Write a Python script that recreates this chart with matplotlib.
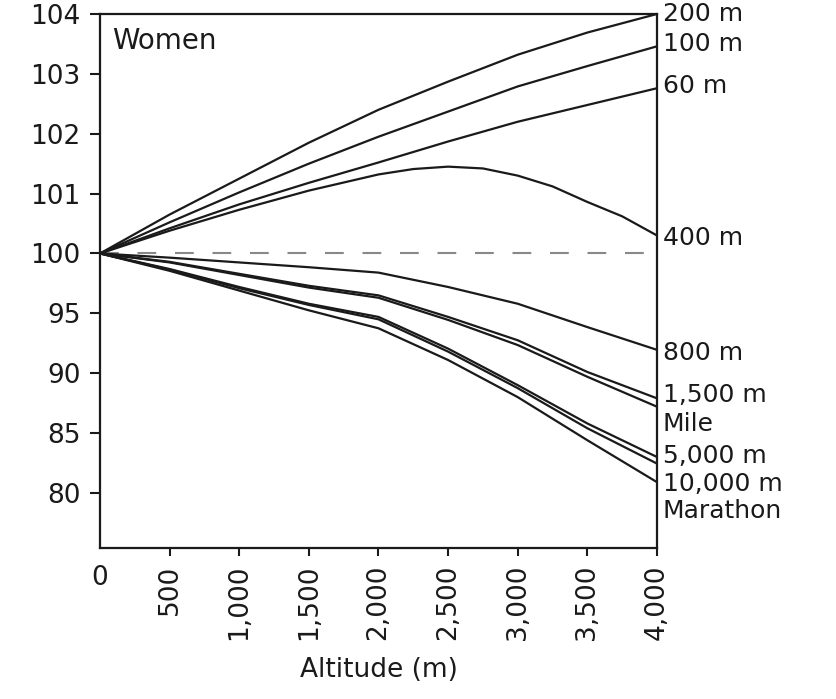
import numpy as np
import matplotlib
matplotlib.use("Agg")
import matplotlib.pyplot as plt
import matplotlib.transforms as mtransforms

plt.rcParams["font.family"] = ["DejaVu Sans"]

# altitude (m) and performance (% of sea-level) for each event
altitude = [0, 500, 1000, 1500, 2000, 2500, 3000, 3500, 4000]
altitude_400 = [0, 500, 1000, 1500, 2000, 2250, 2500, 2750, 3000, 3250,
                3500, 3750, 4000]

perf_200 = [100, 100.65, 101.25, 101.85, 102.4, 102.87, 103.32, 103.69, 104.0]
perf_100 = [100, 100.52, 101.02, 101.5, 101.95, 102.37, 102.79, 103.13, 103.46]
perf_60 = [100, 100.42, 100.82, 101.18, 101.52, 101.87, 102.2, 102.48, 102.76]
perf_400 = [100, 100.38, 100.73, 101.05, 101.32, 101.41, 101.45, 101.42,
            101.3, 101.12, 100.86, 100.62, 100.3]
perf_800 = [100, 99.65, 99.25, 98.85, 98.4, 97.2, 95.8, 93.85, 91.95]
perf_1500 = [100, 99.3, 98.3, 97.3, 96.5, 94.7, 92.75, 90.1, 87.9]
perf_mile = [100, 99.25, 98.2, 97.15, 96.3, 94.45, 92.35, 89.7, 87.2]
perf_5000 = [100, 98.7, 97.2, 95.8, 94.7, 92.05, 89.0, 85.8, 83.0]
perf_10000 = [100, 98.65, 97.1, 95.7, 94.5, 91.8, 88.75, 85.4, 82.45]
perf_marathon = [100, 98.55, 96.9, 95.25, 93.75, 91.1, 88.0, 84.4, 80.9]

series = [(altitude, perf_200), (altitude, perf_100), (altitude, perf_60),
          (altitude_400, perf_400), (altitude, perf_800),
          (altitude, perf_1500), (altitude, perf_mile),
          (altitude, perf_5000), (altitude, perf_10000),
          (altitude, perf_marathon)]

# event labels on the right and the y value where each one sits
event_labels = ["200 m", "100 m", "60 m", "400 m", "800 m",
                "1,500 m", "Mile", "5,000 m", "10,000 m", "Marathon"]
label_y = [104.0, 103.5, 102.8, 100.25, 91.65, 88.15, 85.75, 83.05, 80.75, 78.45]

y_ticks = [80, 85, 90, 95, 100, 101, 102, 103, 104]
x_ticks = [0, 500, 1000, 1500, 2000, 2500, 3000, 3500, 4000]
x_ticklabels = ["0", "500", "1,000", "1,500", "2,000", "2,500",
                "3,000", "3,500", "4,000"]


# broken y scale: 1 unit per step above 100, 5 units per step below
def fwd(y):
    y = np.asarray(y, dtype=float)
    return np.where(y >= 100, y - 100, (y - 100) / 5.0)


def inv(t):
    t = np.asarray(t, dtype=float)
    return np.where(t >= 0, t + 100, t * 5.0 + 100)


fig = plt.figure(figsize=(8.36, 6.99), dpi=100)
ax = fig.add_axes([0.1196, 0.216, 0.6663, 0.764])
ax.set_yscale("function", functions=(fwd, inv))

ink = "#1a1a1a"
ax.axhline(100, color="#888888", lw=1.5, linestyle=(0, (9, 9)), zorder=1)
for xs, vals in series:
    ax.plot(xs, vals, color=ink, lw=1.6, zorder=2, solid_joinstyle="round")

ax.set_xlim(0, 4000)
ax.set_ylim(75.4, 104)

ax.set_yticks(y_ticks)
ax.set_yticklabels([str(v) for v in y_ticks])
ax.set_xticks(x_ticks)
ax.set_xticklabels(x_ticklabels, rotation=90)
ax.get_xticklabels()[0].set_rotation(0)
ax.xaxis.get_major_ticks()[0].tick1line.set_visible(False)

ax.tick_params(axis="y", direction="out", length=7, width=1.5, pad=7,
               labelsize=19, colors=ink)
ax.tick_params(axis="x", direction="out", length=6, width=1.5, pad=6,
               labelsize=19, colors=ink)

for sp in ax.spines.values():
    sp.set_linewidth(1.6)
    sp.set_color(ink)

ax.set_xlabel("Altitude (m)", fontsize=19, labelpad=12, color=ink)

ax.text(0.022, 0.95, "Women", transform=ax.transAxes, fontsize=20,
        va="center", ha="left", color=ink)

trans = mtransforms.blended_transform_factory(ax.transAxes, ax.transData)
for lab, yv in zip(event_labels, label_y):
    ax.text(1.01, yv, lab, transform=trans, fontsize=18, va="center",
            ha="left", color=ink, clip_on=False)

fig.savefig("out.png", dpi=100, facecolor="white")
